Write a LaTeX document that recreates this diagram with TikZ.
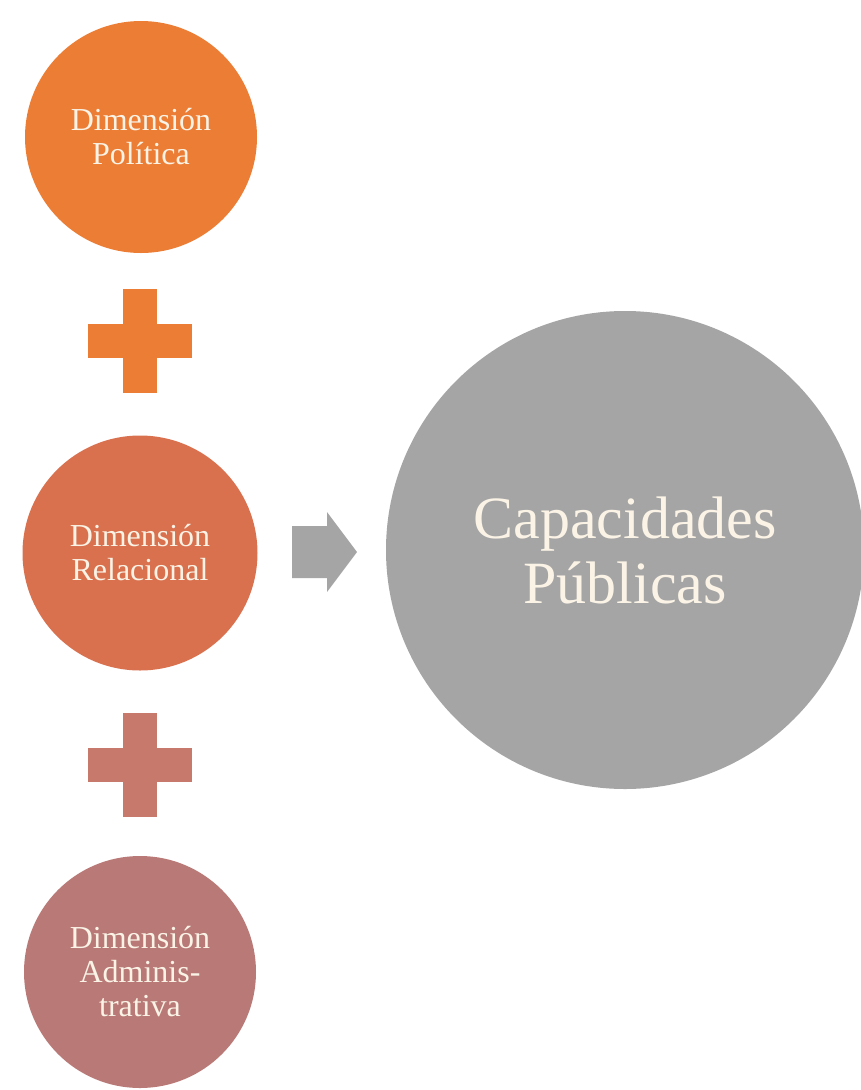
\documentclass[tikz,border=0pt]{standalone}
\usepackage{fontspec}
\setmainfont{Liberation Serif}
\definecolor{cOrange}{HTML}{EC7D35}
\definecolor{cRel}{HTML}{D9714F}
\definecolor{cPlusTwo}{HTML}{C77A6C}
\definecolor{cAdm}{HTML}{B97A77}
\definecolor{cGray}{HTML}{A5A5A5}
\definecolor{cText}{HTML}{FAF3E6}
\tikzset{
  dimcircle/.style={circle, inner sep=0pt, minimum size=#1, align=center,
    text=cText, font=\fontsize{32}{34}\selectfont},
  bigcircle/.style={circle, inner sep=0pt, minimum size=478pt, align=center,
    fill=cGray, text=cText, font=\fontsize{60}{65}\selectfont},
  blockarrow/.style={fill=cGray}
}
\begin{document}
\begin{tikzpicture}[x=1pt,y=-1pt]
\useasboundingbox[fill=white] (0,0) rectangle (860,1090);
% left column
\node[dimcircle=232pt, fill=cOrange] (pol) at (141,137) {Dimensión\\Política};
\node[dimcircle=235pt, fill=cRel] (rel) at (140,553) {Dimensión\\Relacional};
\node[dimcircle=232pt, fill=cAdm] (adm) at (140,972) {Dimensión\\Adminis-\\trativa};
% plus signs
\coordinate (p1) at (140,341);
\coordinate (p2) at (140,765);
\fill[cOrange] ([xshift=-52pt,yshift=17pt]p1) rectangle ([xshift=52pt,yshift=-17pt]p1);
\fill[cOrange] ([xshift=-17pt,yshift=52pt]p1) rectangle ([xshift=17pt,yshift=-52pt]p1);
\fill[cPlusTwo] ([xshift=-52pt,yshift=17pt]p2) rectangle ([xshift=52pt,yshift=-17pt]p2);
\fill[cPlusTwo] ([xshift=-17pt,yshift=52pt]p2) rectangle ([xshift=17pt,yshift=-52pt]p2);
% result
\node[bigcircle] (cap) at (625,550) {Capacidades\\Públicas};
% block arrow
\coordinate (arr) at (292,552);
\fill[blockarrow] (arr) ++(0,-26) -- ++(35,0) -- ++(0,-14) -- ++(30,40)
  -- ++(-30,40) -- ++(0,-14) -- ++(-35,0) -- cycle;
\end{tikzpicture}
\end{document}
